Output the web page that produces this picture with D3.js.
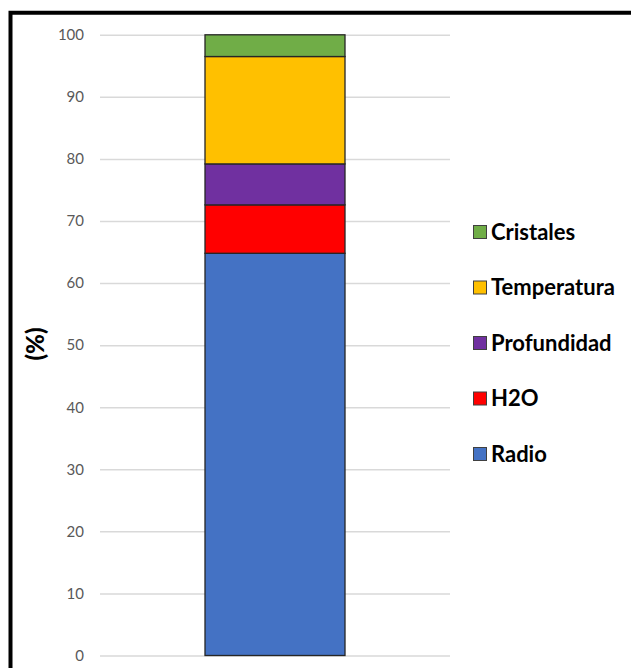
<!DOCTYPE html>
<html>
<head>
<meta charset="utf-8">
<script src="https://cdn.jsdelivr.net/npm/d3@7"></script>
<style>
  html, body { margin: 0; padding: 0; background: #fff; }
  svg { display: block; }
</style>
</head>
<body>
<svg id="chart" width="631" height="668"></svg>
<script>
// Stacked composition (%) — bottom to top
const categories = ["Radio", "H2O", "Profundidad", "Temperatura", "Cristales"];
const values = [64.8, 7.8, 6.6, 17.3, 3.5];
const colors = ["#4472C4", "#FF0000", "#7030A0", "#FFC000", "#70AD47"];
const tickValues = [0, 10, 20, 30, 40, 50, 60, 70, 80, 90, 100];
const yTitle = "(%)";

const svg = d3.select("#chart");
const W = 631, H = 668;
const fontFamily = "Lato, 'Open Sans', 'DejaVu Sans', sans-serif";

// outer frame (runs past the right and bottom edges)
svg.append("rect")
  .attr("x", 10.5).attr("y", 12.75)
  .attr("width", W + 20).attr("height", H + 20)
  .attr("fill", "none").attr("stroke", "#000").attr("stroke-width", 4);

const y = d3.scaleLinear().domain([0, 100]).range([655.5, 34.8]);
const x = d3.scaleBand().domain(["total"]).range([100, 450]).paddingInner(0).paddingOuter(0.75);

// gridlines + tick labels via axis
const axis = d3.axisLeft(y).tickValues(tickValues).tickSize(-350).tickPadding(16);
const gAxis = svg.append("g").attr("transform", "translate(100,0)").call(axis);
gAxis.select(".domain").remove();
gAxis.selectAll(".tick line").attr("stroke", "#d9d9d9").attr("stroke-width", 1.5);
gAxis.selectAll(".tick text")
  .attr("fill", "#595959")
  .attr("font-family", fontFamily)
  .attr("font-size", 15);

// stacked segments
let acc = 0;
const stackData = categories.map((c, i) => {
  const d = { key: c, y0: acc, y1: acc + values[i], color: colors[i] };
  acc += values[i];
  return d;
});

const bx = x("total"), bw = x.bandwidth();
svg.append("g").selectAll("rect")
  .data(stackData)
  .join("rect")
  .attr("x", bx)
  .attr("width", bw)
  .attr("y", d => y(d.y1))
  .attr("height", d => y(d.y0) - y(d.y1))
  .attr("fill", d => d.color)
  .attr("stroke", "#262626")
  .attr("stroke-width", 1.3);

// y-axis title
svg.append("text")
  .attr("transform", "translate(44,344) rotate(-90)")
  .attr("text-anchor", "middle")
  .attr("font-family", fontFamily)
  .attr("font-weight", "900")
  .attr("font-size", 24)
  .attr("fill", "#000")
  .text(yTitle);

// legend, top entry = top segment
const legendItems = stackData.slice().reverse();
const lg = svg.append("g");
legendItems.forEach((d, i) => {
  const cy = 232 + i * 55.5;
  lg.append("rect")
    .attr("x", 473.5).attr("y", cy - 6.5)
    .attr("width", 13).attr("height", 13)
    .attr("fill", d.color)
    .attr("stroke", "#404040").attr("stroke-width", 1);
  lg.append("text")
    .attr("x", 491).attr("y", cy)
    .attr("dy", "0.36em")
    .attr("font-family", fontFamily)
    .attr("font-weight", "bold")
    .attr("font-size", 22)
    .attr("fill", "#000")
    .text(d.key);
});
</script>
</body>
</html>
